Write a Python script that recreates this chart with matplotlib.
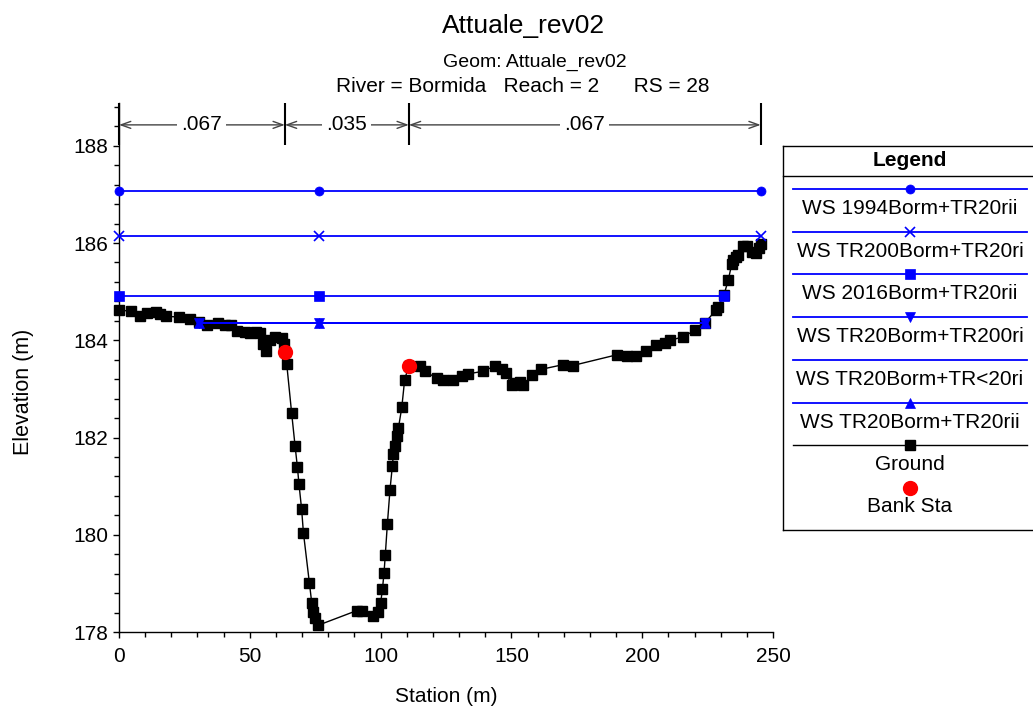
import matplotlib
matplotlib.use("Agg")
import matplotlib.pyplot as plt
from matplotlib.ticker import MultipleLocator

plt.rcParams['font.family'] = ['Liberation Sans', 'DejaVu Sans']

# ---------------- data ----------------
ground_sta = [0.0, 4.5, 8.0, 10.8, 14.1, 15.7, 18.0, 23.1, 27.1, 30.7, 33.5, 38.0, 40.5,
              42.7, 45.0, 48.2, 50.1, 52.4, 53.9, 55.2, 56.2, 57.7, 59.6, 62.2, 63.1, 63.4,
              64.1, 66.0, 67.3, 68.2, 68.8, 69.8, 70.5, 72.8, 73.7, 74.3, 74.9, 76.2,
              90.9, 92.8, 97.2, 99.1, 100.0, 100.7, 101.3, 101.8, 102.6, 103.6, 104.5,
              104.9, 105.4, 106.1, 106.8, 108.1, 109.2, 110.8, 115.1, 117.0, 121.4, 124.0,
              127.5, 131.0, 133.5, 139.0, 143.7, 146.3, 147.9, 150.1, 151.4, 153.3, 154.6,
              157.8, 161.2, 169.9, 173.4, 190.2, 194.1, 197.6, 201.5, 205.3, 208.7, 210.6,
              215.7, 220.2, 224.0, 228.2, 229.1, 231.3, 232.9, 234.2, 234.8, 235.9, 236.7,
              238.6, 239.9, 241.9, 243.5, 244.8, 245.3]
ground_elev = [184.62, 184.60, 184.50, 184.57, 184.58, 184.55, 184.49, 184.48, 184.43, 184.38,
               184.31, 184.36, 184.32, 184.31, 184.20, 184.16, 184.15, 184.18, 184.14, 183.93,
               183.78, 184.00, 184.07, 184.05, 183.93, 183.76, 183.52, 182.50, 181.83, 181.39,
               181.04, 180.53, 180.04, 179.00, 178.59, 178.42, 178.28, 178.14, 178.44, 178.44,
               178.33, 178.42, 178.59, 178.88, 179.21, 179.59, 180.23, 180.93, 181.42, 181.66,
               181.82, 182.04, 182.19, 182.62, 183.19, 183.48, 183.47, 183.36, 183.22, 183.19,
               183.19, 183.26, 183.31, 183.36, 183.47, 183.41, 183.33, 183.07, 183.12, 183.14,
               183.07, 183.28, 183.40, 183.50, 183.48, 183.70, 183.68, 183.68, 183.77, 183.90,
               183.95, 184.00, 184.07, 184.21, 184.36, 184.62, 184.69, 184.94, 185.24, 185.56,
               185.65, 185.72, 185.75, 185.93, 185.93, 185.81, 185.79, 185.89, 185.98]

bank_sta = [63.4, 110.8]
bank_elev = [183.76, 183.48]

ws_labels = ["WS 1994Borm+TR20rii", "WS TR200Borm+TR20ri", "WS 2016Borm+TR20rii",
             "WS TR20Borm+TR200ri", "WS TR20Borm+TR<20ri", "WS TR20Borm+TR20rii"]
ws_elev = [187.07, 186.14, 184.92, 184.35, 184.35, 184.35]
ws_sta = [[0.0, 76.45, 245.3], [0.0, 76.45, 245.3], [0.0, 76.45, 231.3],
          [30.6, 76.45, 224.0], [30.6, 76.45, 224.0], [30.6, 76.45, 224.0]]
ws_markers = ['o', 'x', 's', 'v', '', '^']
ws_msize = [6.5, 6.5, 7, 7, 0, 7]

n_sta = [0.0, 63.4, 110.8, 245.3]
n_vals = ['.067', '.035', '.067']

title = "Attuale_rev02"
subtitle1 = "Geom: Attuale_rev02"
subtitle2 = "River = Bormida   Reach = 2      RS = 28"

# ---------------- figure ----------------
W, H = 1033, 715
fig = plt.figure(figsize=(W / 100, H / 100), dpi=100)
ax = fig.add_axes([119 / W, (H - 632) / H, (773 - 119) / W, (632 - 103) / H])
ax.set_xlim(0, 250)
ax.set_ylim(178, 188.88)
for s in ('top', 'right'):
    ax.spines[s].set_visible(False)
for s in ('left', 'bottom'):
    ax.spines[s].set_linewidth(1.0)
ax.xaxis.set_major_locator(MultipleLocator(50))
ax.xaxis.set_minor_locator(MultipleLocator(10))
ax.yaxis.set_major_locator(MultipleLocator(2))
ax.yaxis.set_minor_locator(MultipleLocator(0.4))
ax.tick_params(which='major', length=4.5, width=1.0, labelsize=15)
ax.tick_params(axis='x', which='major', pad=6)
ax.tick_params(axis='y', which='major', pad=3)
ax.tick_params(which='minor', length=3.5, width=1.0)

blue = '#0000ff'

ax.plot(ground_sta, ground_elev, color='black', lw=1.0, marker='s', markersize=6.5,
        zorder=4, clip_on=False)

for lab, el, st, mk, ms in zip(ws_labels, ws_elev, ws_sta, ws_markers, ws_msize):
    ax.plot(st, [el] * len(st), color=blue, lw=1.3, marker=mk if mk else None,
            markersize=ms, markeredgewidth=1.2 if mk == 'x' else 0.5, clip_on=False, zorder=4.5)

ax.plot(bank_sta, bank_elev, linestyle='none', marker='o', color='red', markersize=10,
        zorder=5, clip_on=False)

# Manning's n annotations
ax.vlines(n_sta, 188.02, 188.88, color='black', lw=1.5, clip_on=False, zorder=6)
y_arrow = 188.43
for i, v in enumerate(n_vals):
    x0, x1 = n_sta[i], n_sta[i + 1]
    ax.annotate('', xy=(x1, y_arrow), xytext=(x0, y_arrow),
                arrowprops=dict(arrowstyle='<->,head_length=0.7,head_width=0.25',
                                color='#444444', lw=1.0, shrinkA=0, shrinkB=0),
                annotation_clip=False)
    ax.text((x0 + x1) / 2, y_arrow, v, ha='center', va='center', fontsize=15,
            bbox=dict(facecolor='white', edgecolor='none', pad=3), zorder=7, clip_on=False)

# titles
fig.text(524 / W, (H - 33) / H, title, ha='center', va='baseline', fontsize=19)
fig.text(535 / W, (H - 66.5) / H, subtitle1, ha='center', va='baseline', fontsize=14)
fig.text(523 / W, (H - 91.5) / H, subtitle2, ha='center', va='baseline', fontsize=15)

# axis labels
fig.text(24 / W, (H - 392) / H, "Elevation (m)", rotation=90, ha='center', va='center',
         fontsize=15.5)
fig.text(446 / W, (H - 697) / H, "Station (m)", ha='center', va='center', fontsize=15)

# ---------------- legend (custom box) ----------------
lx0, lx1, ly0, ly1 = 783, 1040, 146, 530
lax = fig.add_axes([lx0 / W, (H - ly1) / H, (lx1 - lx0) / W, (ly1 - ly0) / H])
lax.set_xlim(lx0, lx1)
lax.set_ylim(ly1, ly0)
lax.axis('off')
lax.plot([lx0, lx1], [ly0, ly0], color='black', lw=1.0, clip_on=False)
lax.plot([lx0, lx1], [ly1, ly1], color='black', lw=1.0, clip_on=False)
lax.plot([lx0, lx0], [ly0, ly1], color='black', lw=1.0, clip_on=False)
lax.plot([lx0, lx1], [176, 176], color='black', lw=1.0, clip_on=False)
lax.text(910, 160, "Legend", ha='center', va='center', fontsize=15, fontweight='bold')

row_y0, row_dy = 189, 42.7
xc = 910
for i, (lab, mk, ms) in enumerate(zip(ws_labels, ws_markers, ws_msize)):
    yl = row_y0 + i * row_dy
    lax.plot([793, 1027], [yl, yl], color=blue, lw=1.3)
    if mk:
        lax.plot([xc], [yl], color=blue, marker=mk, markersize=ms,
                 markeredgewidth=1.2 if mk == 'x' else 0.5)
    lax.text(xc, yl + 19.5, lab, ha='center', va='center', fontsize=15)
yl = row_y0 + 6 * row_dy
lax.plot([793, 1027], [yl, yl], color='black', lw=1.0)
lax.plot([xc], [yl], color='black', marker='s', markersize=6.5)
lax.text(xc, yl + 19.5, "Ground", ha='center', va='center', fontsize=15)
lax.plot([xc], [488], color='red', marker='o', markersize=10, linestyle='none')
lax.text(xc, 506, "Bank Sta", ha='center', va='center', fontsize=15)

fig.savefig('out.png', dpi=100)
